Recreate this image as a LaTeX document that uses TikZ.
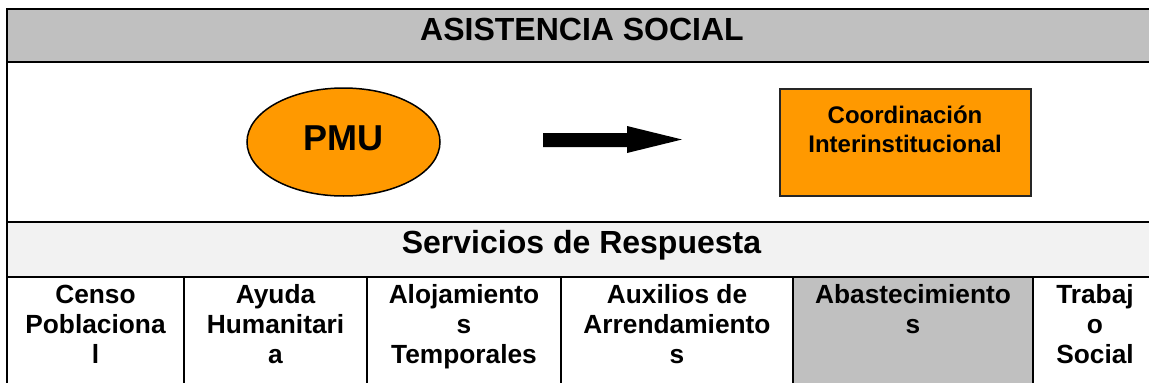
\documentclass[tikz,border=0pt]{standalone}
\usepackage{fontspec}
\setmainfont{Liberation Sans}
\usetikzlibrary{shapes.geometric}
\definecolor{hdrgray}{HTML}{C0C0C0}
\definecolor{rowgray}{HTML}{F2F2F2}
\definecolor{orng}{HTML}{FF9900}
\begin{document}
\begin{tikzpicture}[x=1pt,y=-1pt,
  grid/.style={line width=2pt,black},
  titletext/.style={font=\fontsize{32}{38}\selectfont\bfseries, inner sep=0pt, anchor=base},
  celltext/.style={font=\fontsize{26.3}{30}\selectfont\bfseries, align=center, anchor=base, inner sep=0pt},
  boxtext/.style={font=\fontsize{24}{29}\selectfont\bfseries, align=center, anchor=base, inner sep=0pt},
  pmushape/.style={ellipse, draw=black, line width=1.5pt, fill=orng, minimum width=193pt, minimum height=108pt, inner sep=0pt,
    font=\fontsize{36}{40}\selectfont\bfseries, text height=25.8pt, text depth=9.8pt},
  coordshape/.style={rectangle, draw=black!85, line width=1.5pt, fill=orng, minimum width=251pt, minimum height=107pt, inner sep=0pt},
  blockarrow/.style={fill=black}
]
\useasboundingbox (0,0) rectangle (1149,383);
\clip (0,0) rectangle (1149,383);
% backgrounds
\fill[white] (0,0) rectangle (1149,383);
\fill[hdrgray] (7,9) rectangle (1160,62);
\fill[rowgray] (7,222) rectangle (1160,277);
\fill[hdrgray] (793,277) rectangle (1033,390);
% grid lines
\draw[grid] (6,9) -- (1160,9);
\draw[grid] (7,62) -- (1160,62);
\draw[grid] (7,222) -- (1160,222);
\draw[grid] (7,277) -- (1160,277);
\draw[grid] (7,8) -- (7,390);
\foreach \cx in {184,367,561,793,1033} \draw[grid] (\cx,277) -- (\cx,390);
% header texts
\node[titletext] (title) at (582,40) {ASISTENCIA SOCIAL};
\node[titletext] (serv) at (581.5,253) {Servicios de Respuesta};
% middle row
\node[pmushape] (pmu) at (343.5,142) {PMU};
\node[coordshape] (coord) at (905.5,142.5) {};
\node[boxtext] (coordlbl) at (905,152) {Coordinación\\Interinstitucional};
% block arrow
\coordinate (arrS) at (543,140);
\coordinate (arrE) at (682,139.5);
\fill[blockarrow] (543,133) -- (627,133) -- (627,126) -- (arrE) -- (627,153) -- (627,147) -- (543,147) -- cycle;
% bottom row (anchor base = baseline of the last line)
\node[celltext] (censo) at (95.5,363) {Censo\\Poblaciona\\l};
\node[celltext] (ayuda) at (275.5,363) {Ayuda\\Humanitari\\a};
\node[celltext] (aloj) at (464,363) {Alojamiento\\s\\Temporales};
\node[celltext] (aux) at (677,363) {Auxilios de\\Arrendamiento\\s};
\node[celltext] (abast) at (913,333) {Abastecimiento\\s};
\node[celltext] (trab) at (1095,363) {Trabaj\\o\\Social};
\end{tikzpicture}
\end{document}
